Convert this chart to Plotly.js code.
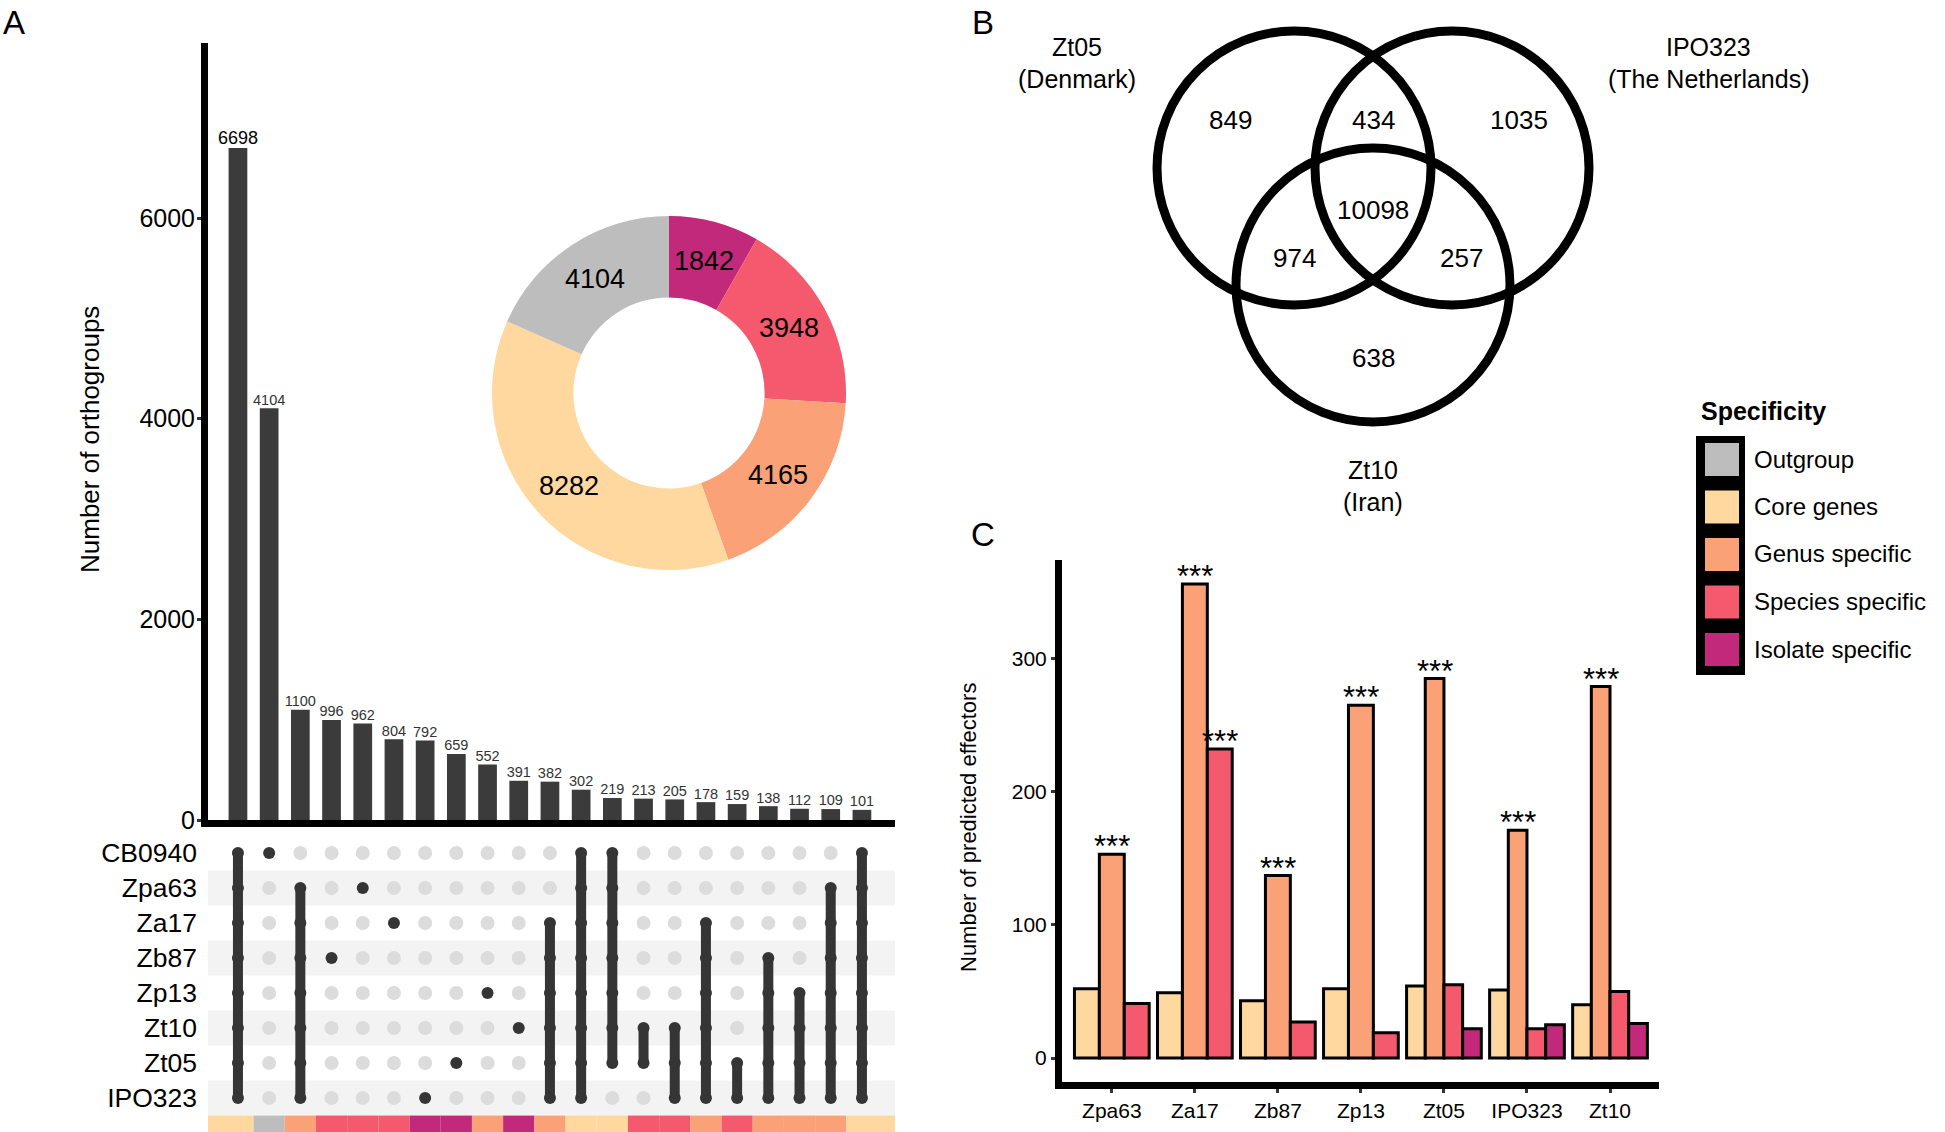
<!DOCTYPE html>
<html><head><meta charset="utf-8">
<script src="https://cdn.plot.ly/plotly-3.0.1.min.js"></script>
<style>html,body{margin:0;padding:0;background:#fff}#plot{width:1945px;height:1132px}</style>
</head><body><div id="plot"></div>
<script>
// ================= DATA =================
// Panel A - UpSet
const upsetSets = ["CB0940","Zpa63","Za17","Zb87","Zp13","Zt10","Zt05","IPO323"];
const upsetCounts = [6698,4104,1100,996,962,804,792,659,552,391,382,302,219,213,205,178,159,138,112,109,101];
const upsetMembers = [
  ["CB0940","Zpa63","Za17","Zb87","Zp13","Zt10","Zt05","IPO323"],
  ["CB0940"],
  ["Zpa63","Za17","Zb87","Zp13","Zt10","Zt05","IPO323"],
  ["Zb87"],
  ["Zpa63"],
  ["Za17"],
  ["IPO323"],
  ["Zt05"],
  ["Zp13"],
  ["Zt10"],
  ["Za17","Zb87","Zp13","Zt10","Zt05","IPO323"],
  ["CB0940","Zpa63","Za17","Zb87","Zp13","Zt10","Zt05","IPO323"],
  ["CB0940","Zpa63","Za17","Zb87","Zp13","Zt10","Zt05"],
  ["Zt10","Zt05"],
  ["Zt10","Zt05","IPO323"],
  ["Za17","Zb87","Zp13","Zt10","Zt05","IPO323"],
  ["Zt05","IPO323"],
  ["Zb87","Zp13","Zt10","Zt05","IPO323"],
  ["Zp13","Zt10","Zt05","IPO323"],
  ["Zpa63","Za17","Zb87","Zp13","Zt10","Zt05","IPO323"],
  ["CB0940","Zpa63","Za17","Zb87","Zp13","Zt10","Zt05","IPO323"]
];
const upsetSpecificity = ["Core genes","Outgroup","Genus specific","Species specific","Species specific","Species specific",
  "Isolate specific","Isolate specific","Genus specific","Isolate specific","Genus specific","Core genes","Core genes",
  "Species specific","Species specific","Genus specific","Species specific","Genus specific","Genus specific","Genus specific","Core genes"];

const specCategories = ["Outgroup","Core genes","Genus specific","Species specific","Isolate specific"];
const specColors = ["#BDBDBD","#FED89E","#FBA177","#F4596E","#C2297A"];

// Panel A - donut
const pieLabels = ["Isolate specific","Species specific","Genus specific","Core genes","Outgroup"];
const pieValues = [1842,3948,4165,8282,4104];

// Panel B - Venn
const vennSets = ["Zt05","IPO323","Zt10"];
const vennOrigins = ["(Denmark)","(The Netherlands)","(Iran)"];
const vennRegions = ["Zt05","IPO323","Zt10","Zt05&IPO323","Zt05&Zt10","IPO323&Zt10","Zt05&IPO323&Zt10"];
const vennCounts = [849,1035,638,434,974,257,10098];

// Panel C - predicted effectors
const effIsolates = ["Zpa63","Za17","Zb87","Zp13","Zt05","IPO323","Zt10"];
const effSeriesNames = ["Core genes","Genus specific","Species specific","Isolate specific"];
const effCore    = [52,49,43,52,54,51,40];
const effGenus   = [153,356,137,265,285,171,279];
const effSpecies = [41,232,27,19,55,22,50];
const effIsolate = [null,null,null,null,22,25,26];
const effGenusSig   = ["***","***","***","***","***","***","***"];
const effSpeciesSig = ["","***","","","","",""];

// ================= LAYOUT GEOMETRY =================
const W = 1945, H = 1132;
const X = p => p / W;
const Y = p => 1 - p / H;
const FONT = "Liberation Sans, Arial, Helvetica, sans-serif";
const colorOf = name => specColors[specCategories.indexOf(name)];

const traces = [];
const shapes = [];
const annotations = [];

// ---------- Panel A: bars ----------
const cols = upsetCounts.map((_, i) => i + 1);
const xr = [0.04, cols.length + 1.06];
traces.push({type:'bar', x: cols, y: upsetCounts, xaxis:'x', yaxis:'y', width: 0.6,
  marker:{color:'#3b3b3b'}, hoverinfo:'skip', showlegend:false});
traces.push({type:'scatter', mode:'text', x: cols, y: upsetCounts, xaxis:'x', yaxis:'y',
  text: upsetCounts.map(String), textposition:'top center',
  textfont:{family:FONT, size: upsetCounts.map((v,i)=> i===0 ? 18 : 14.5), color: upsetCounts.map((v,i)=> i===0 ? '#000' : '#333')},
  hoverinfo:'skip', showlegend:false, cliponaxis:false});

// ---------- Panel A: matrix ----------
upsetSets.forEach((s, r) => {
  if (r % 2 === 1) shapes.push({type:'rect', xref:'x2', yref:'y2', x0:xr[0], x1:xr[1], y0:r-0.5, y1:r+0.5,
    fillcolor:'#f3f3f3', line:{width:0}, layer:'below'});
});
const gx=[], gy=[], dx=[], dy=[], lx=[], ly=[];
cols.forEach((c, i) => {
  const idx = upsetMembers[i].map(s => upsetSets.indexOf(s));
  const lo = Math.min(...idx), hi = Math.max(...idx);
  upsetSets.forEach((s, r) => {
    if (idx.includes(r)) { dx.push(c); dy.push(r); }
    else if (r < lo || r > hi) { gx.push(c); gy.push(r); }
  });
  if (hi > lo) { lx.push(c, c, null); ly.push(lo, hi, null); }
  shapes.push({type:'rect', xref:'x2', yref:'y2',
    x0: i===0 ? xr[0] : c-0.5, x1: i===cols.length-1 ? xr[1] : c+0.5, y0: 7.5, y1: 7.97,
    fillcolor: colorOf(upsetSpecificity[i]), line:{width:0}});
});
traces.push({type:'scatter', mode:'markers', x:gx, y:gy, xaxis:'x2', yaxis:'y2',
  marker:{size:14, color:'#dcdcdc'}, hoverinfo:'skip', showlegend:false});
traces.push({type:'scatter', mode:'lines', x:lx, y:ly, xaxis:'x2', yaxis:'y2',
  line:{width:10, color:'#353535'}, hoverinfo:'skip', showlegend:false});
traces.push({type:'scatter', mode:'markers', x:dx, y:dy, xaxis:'x2', yaxis:'y2',
  marker:{size:12, color:'#353535'}, hoverinfo:'skip', showlegend:false});

// ---------- Panel A: donut ----------
const pc = {x:669, y:393, r:177};
traces.push({type:'pie', labels: pieLabels, values: pieValues, sort:false, direction:'clockwise', rotation:0,
  hole:0.54, marker:{colors: pieLabels.map(colorOf), line:{width:0}}, textinfo:'none', hoverinfo:'skip',
  domain:{x:[X(pc.x-pc.r), X(pc.x+pc.r)], y:[Y(pc.y+pc.r), Y(pc.y-pc.r)]}, showlegend:false});
{
  const tot = pieValues.reduce((a,b)=>a+b,0);
  let cum = 0;
  const rm = pc.r * (1 + 0.54) / 2;
  pieValues.forEach(v => {
    const th = (cum + v/2) / tot * 2 * Math.PI; cum += v;
    annotations.push({xref:'paper', yref:'paper', x: X(pc.x + rm*Math.sin(th)), y: Y(pc.y - rm*Math.cos(th)),
      text: String(v), showarrow:false, font:{family:FONT, size:27, color:'#000'}, xanchor:'center', yanchor:'middle'});
  });
}

// ---------- Panel B: Venn ----------
const vennCircles = [{cx:1294, cy:168}, {cx:1452, cy:168}, {cx:1373, cy:285}];
const vennR = 137;
vennCircles.forEach(c => shapes.push({type:'circle', xref:'paper', yref:'paper',
  x0:X(c.cx-vennR), x1:X(c.cx+vennR), y0:Y(c.cy+vennR), y1:Y(c.cy-vennR), line:{color:'#000', width:9}}));
const vennLabelPos = [{x:1077, y:47}, {x:1708, y:47}, {x:1373, y:470}];
vennSets.forEach((s, i) => {
  annotations.push({xref:'paper', yref:'paper', x:X(vennLabelPos[i].x), y:Y(vennLabelPos[i].y), text:s,
    showarrow:false, font:{family:FONT, size:25, color:'#000'}, xanchor:'center', yanchor:'middle'});
  annotations.push({xref:'paper', yref:'paper', x:X(vennLabelPos[i].x), y:Y(vennLabelPos[i].y+32), text:vennOrigins[i],
    showarrow:false, font:{family:FONT, size:25, color:'#000'}, xanchor:'center', yanchor:'middle'});
});
const vennRegionPos = [{x:1230,y:120},{x:1519,y:120},{x:1373,y:358},{x:1373,y:120},{x:1294,y:258},{x:1461,y:258},{x:1373,y:210}];
vennCounts.forEach((v, i) => annotations.push({xref:'paper', yref:'paper', x:X(vennRegionPos[i].x), y:Y(vennRegionPos[i].y),
  text:String(v), showarrow:false, font:{family:FONT, size:26, color:'#000'}, xanchor:'center', yanchor:'middle'}));

// ---------- Panel C: bars ----------
const effSeries = [effCore, effGenus, effSpecies, effIsolate];
const effSig = [null, effGenusSig, effSpeciesSig, null];
const bx = effSeries.map(()=>[]), by = effSeries.map(()=>[]), bw = effSeries.map(()=>[]);
effIsolates.forEach((g, gi) => {
  const present = effSeries.map((s, k) => s[gi] != null ? k : -1).filter(k => k >= 0);
  const n = present.length, w = 0.9 / n;
  present.forEach((k, j) => {
    const xpos = gi + (j - (n-1)/2) * w;
    bx[k].push(xpos); by[k].push(effSeries[k][gi]); bw[k].push(w);
    if (effSig[k] && effSig[k][gi]) annotations.push({xref:'x3', yref:'y3', x:xpos, y:effSeries[k][gi],
      text:effSig[k][gi], showarrow:false, xanchor:'center', yanchor:'bottom', yshift:-12,
      font:{family:FONT, size:31, color:'#000'}});
  });
});
effSeries.forEach((s, k) => traces.push({type:'bar', x:bx[k], y:by[k], width:bw[k], xaxis:'x3', yaxis:'y3',
  name: effSeriesNames[k], marker:{color: colorOf(effSeriesNames[k]), line:{color:'#000', width:3}},
  hoverinfo:'skip', showlegend:false}));

// ---------- Legend (manual) ----------
annotations.push({xref:'paper', yref:'paper', x:X(1699), y:Y(411), text:'<b>Specificity</b>', showarrow:false,
  xanchor:'left', yanchor:'middle', font:{family:FONT, size:25, color:'#000'}});
shapes.push({type:'rect', xref:'paper', yref:'paper', x0:X(1696), x1:X(1745), y0:Y(675), y1:Y(436),
  fillcolor:'#000', line:{width:0}});
specCategories.forEach((c, i) => {
  const top = 443 + 47.5*i;
  shapes.push({type:'rect', xref:'paper', yref:'paper', x0:X(1705), x1:X(1739), y0:Y(top+33), y1:Y(top),
    fillcolor: specColors[i], line:{width:0}});
  annotations.push({xref:'paper', yref:'paper', x:X(1752), y:Y(top+16), text:c, showarrow:false,
    xanchor:'left', yanchor:'middle', font:{family:FONT, size:24, color:'#000'}});
});

// ---------- Titles / panel letters ----------
annotations.push({xref:'paper', yref:'paper', x:X(90), y:Y(440), text:'Number of orthogroups', textangle:-90,
  showarrow:false, font:{family:FONT, size:26, color:'#000'}, xanchor:'center', yanchor:'middle'});
annotations.push({xref:'paper', yref:'paper', x:X(968), y:Y(828), text:'Number of predicted effectors', textangle:-90,
  showarrow:false, font:{family:FONT, size:22, color:'#000'}, xanchor:'center', yanchor:'middle'});
[['A',14,22],['B',983,22],['C',983,534]].forEach(([t,x,y]) => annotations.push({xref:'paper', yref:'paper',
  x:X(x), y:Y(y), text:t, showarrow:false, font:{family:FONT, size:33, color:'#000'}, xanchor:'center', yanchor:'middle'}));

const axLine = {showline:true, linewidth:7, linecolor:'#000', showgrid:false, zeroline:false, fixedrange:true};
const layout = {
  width:W, height:H, margin:{l:0, r:0, t:0, b:0}, paper_bgcolor:'#fff', plot_bgcolor:'rgba(0,0,0,0)',
  font:{family:FONT, color:'#000'}, showlegend:false, hovermode:false, barmode:'overlay',
  xaxis: Object.assign({}, axLine, {domain:[X(208), X(895)], range:xr, anchor:'y', showticklabels:false, ticks:''}),
  yaxis: Object.assign({}, axLine, {domain:[Y(820), Y(43)], range:[0, 7745], anchor:'x',
    tickvals:[0,2000,4000,6000], ticks:'outside', ticklen:4, tickwidth:3, tickcolor:'#333', ticklabelstandoff:-3,
    tickfont:{size:25, color:'#000'}}),
  xaxis2: {domain:[X(208), X(895)], range:xr, anchor:'y2', visible:false, fixedrange:true},
  yaxis2: {domain:[0, Y(835)], range:[7.97, -0.514], anchor:'x2', tickvals: upsetSets.map((_, i)=>i), ticktext: upsetSets,
    ticks:'', showline:false, showgrid:false, zeroline:false, tickfont:{size:26.5, color:'#000'}, ticklabelstandoff:10, fixedrange:true},
  xaxis3: Object.assign({}, axLine, {domain:[X(1062), X(1659)], range:[-0.6, 6.59], anchor:'y3',
    tickvals: effIsolates.map((_, i)=>i), ticktext: effIsolates, ticks:'outside', ticklen:4, tickwidth:3, tickcolor:'#333',
    tickfont:{size:21, color:'#000'}}),
  yaxis3: Object.assign({}, axLine, {domain:[Y(1082), Y(560)], range:[-18, 374], anchor:'x3',
    tickvals:[0,100,200,300], ticks:'outside', ticklen:4, tickwidth:3, tickcolor:'#333', tickfont:{size:21, color:'#000'}}),
  shapes, annotations
};
Plotly.newPlot('plot', traces, layout, {displayModeBar:false, staticPlot:true});
</script></body></html>
